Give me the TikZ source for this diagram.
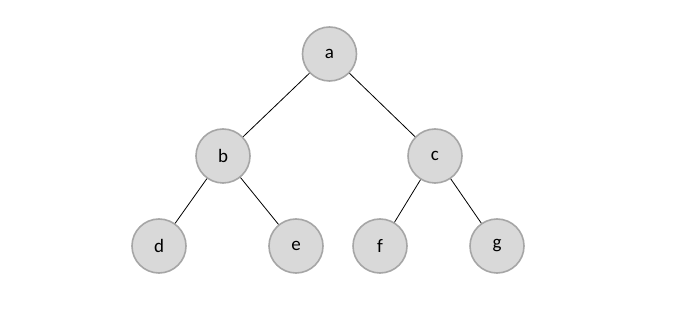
\documentclass[tikz,border=0pt]{standalone}
\usepackage{fontspec}
\setmainfont{Carlito}
\usetikzlibrary{positioning}
\definecolor{nodefill}{HTML}{D9D9D9}
\definecolor{nodeline}{HTML}{A6A6A6}

\begin{document}
\begin{tikzpicture}[x=1pt, y=-1pt, line width=0.8pt,
        vert/.style={circle, draw=nodeline, fill=nodefill, line width=1.6pt,
                     minimum size=54pt, inner sep=0pt, font=\fontsize{19}{22}\selectfont}]
        \useasboundingbox (0,0) rectangle (699,312);
        % root
        \node[vert] (a) at (329.5,54) {a};
        % second level
        \node[vert] (b) at (223,156) {b};
        \node[vert] (c) at (435,156) {c};
        % leaves
        \node[vert] (d) at (159,246) {d};
        \node[vert] (e) at (296,246) {e};
        \node[vert] (f) at (380,246) {f};
        \node[vert] (g) at (497,246) {g};
        \draw (a)--(b);
        \draw (a)--(c);
        \draw (b)--(d);
        \draw (b)--(e);
        \draw (c)--(f);
        \draw (c)--(g);
      \end{tikzpicture}
\end{document}
